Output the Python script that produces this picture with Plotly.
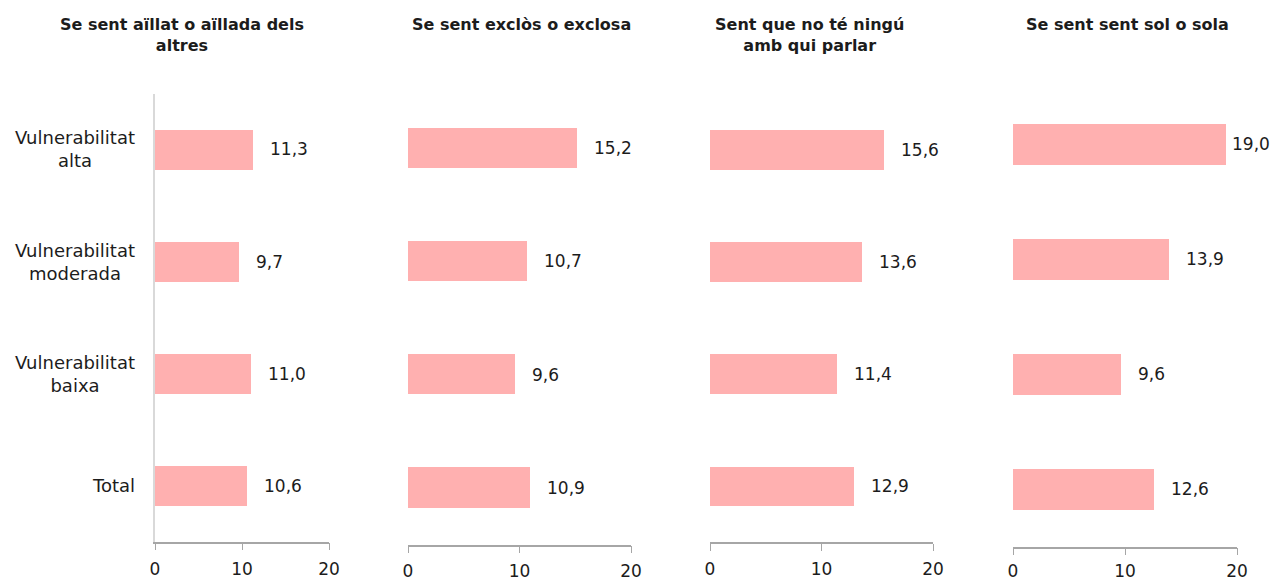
import plotly.graph_objects as go

W, H = 1272, 581

categories = ["Vulnerabilitat alta", "Vulnerabilitat moderada", "Vulnerabilitat baixa", "Total"]
category_labels = ["Vulnerabilitat<br>alta", "Vulnerabilitat<br>moderada", "Vulnerabilitat<br>baixa", "Total"]

titles = [
    "Se sent aïllat o aïllada dels<br>altres",
    "Se sent exclòs o exclosa",
    "Sent que no té ningú<br>amb qui parlar",
    "Se sent sent sol o sola",
]

aillat = [11.3, 9.7, 11.0, 10.6]
exclos = [15.2, 10.7, 9.6, 10.9]
ningu = [15.6, 13.6, 11.4, 12.9]
sol = [19.0, 13.9, 9.6, 12.6]
series = [aillat, exclos, ningu, sol]

x_ticks = [0, 10, 20]

# panel geometry in pixels: (x0, x1, y_top, y_bottom)
panels = [
    (155, 329, 93.5, 541.5),
    (408, 631, 91.3, 544.5),
    (710, 933, 93.5, 542.0),
    (1013, 1237, 86.5, 546.5),
]
title_centers = [182, 521, 809, 1127]
# space between tick and tick label; the last panel sits lower
standoffs = [4, 3, 4, 1]

BAR = "#FFB0B0"
TXT = "#1c1c1c"
FONT = "DejaVu Sans"

fig = go.Figure()
annotations = []
layout = {}

for i, (vals, (x0, x1, yt, yb)) in enumerate(zip(series, panels)):
    n = "" if i == 0 else str(i + 1)
    xa, ya = "x" + n, "y" + n
    fig.add_trace(go.Bar(
        x=vals, y=categories, orientation="h",
        marker=dict(color=BAR, line=dict(width=0)),
        width=0.355, xaxis=xa, yaxis=ya,
        hoverinfo="skip", showlegend=False,
    ))
    layout["xaxis" + n] = dict(
        domain=[x0 / W, x1 / W], range=[0, 20], anchor=ya,
        tickvals=x_ticks, ticks="outside", ticklen=7, tickcolor="#a6a6a6",
        showline=True, linecolor="#a6a6a6", linewidth=1.5,
        showgrid=False, zeroline=False, ticklabelstandoff=standoffs[i],
        tickfont=dict(family=FONT, size=17, color=TXT), fixedrange=True,
    )
    layout["yaxis" + n] = dict(
        domain=[1 - yb / H, 1 - yt / H], anchor=xa,
        type="category", categoryorder="array", categoryarray=categories,
        autorange=False, range=[3.5, -0.5],
        showticklabels=False, ticks="", showgrid=False, zeroline=False,
        showline=(i == 0), linecolor="#d9d9d9", linewidth=2,
        fixedrange=True,
    )
    for c, v in zip(categories, vals):
        shift = 15
        if (x0 + v * (x1 - x0) / 20) + 15 + 40 > W:
            shift = 4
        annotations.append(dict(
            x=v, y=c, xref=xa, yref=ya, xanchor="left", yanchor="middle",
            xshift=shift, text=f"{v:.1f}".replace(".", ","), showarrow=False,
            font=dict(family=FONT, size=17, color=TXT),
        ))
    annotations.append(dict(
        x=title_centers[i] / W, y=1 - 13 / H, xref="paper", yref="paper",
        xanchor="center", yanchor="top", align="center", showarrow=False,
        text=f"<b>{titles[i]}</b>",
        font=dict(family=FONT, size=16, color=TXT),
    ))

# category labels on the left of the first panel
for c, lab in zip(categories, category_labels):
    annotations.append(dict(
        x=137 / W, y=c, xref="paper", yref="y", xanchor="right", yanchor="middle",
        align="center", text=lab, showarrow=False,
        font=dict(family=FONT, size=18, color=TXT),
    ))

fig.update_layout(
    width=W, height=H,
    margin=dict(l=0, r=0, t=0, b=0, autoexpand=False),
    paper_bgcolor="white", plot_bgcolor="white",
    annotations=annotations, bargap=0,
    **layout,
)

fig.write_html("out.html", config={"displayModeBar": False})
